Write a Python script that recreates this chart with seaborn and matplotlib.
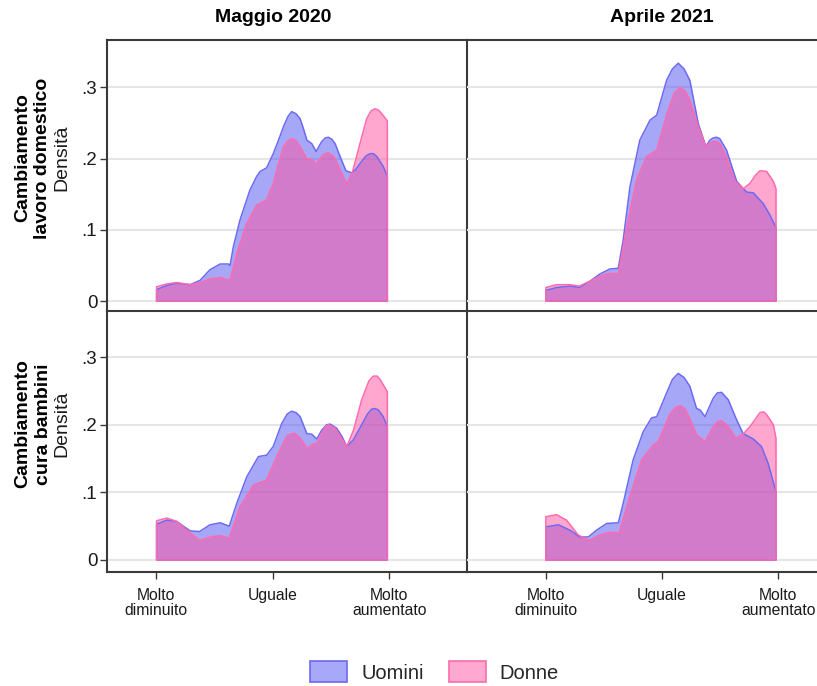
import numpy as np
import pandas as pd
import seaborn as sns
import matplotlib
matplotlib.use("Agg")
import matplotlib.pyplot as plt
from matplotlib.patches import Patch

# ---------------- data ----------------
# x scale: -4 = "Molto diminuito", 0 = "Uguale", 4 = "Molto aumentato"
tick_pos = [-4, 0, 4]
tick_labels = ["Molto\ndiminuito", "Uguale", "Molto\naumentato"]
col_titles = ["Maggio 2020", "Aprile 2021"]
row_titles = ["Cambiamento\nlavoro domestico", "Cambiamento\ncura bambini"]
groups = ["Uomini", "Donne"]

# Lavoro domestico, Maggio 2020
x_lav20_u = [-3.98, -3.63, -3.29, -2.83, -2.49, -2.15, -1.80, -1.52, -1.46, -1.35, -1.12, -0.78, -0.55, -0.43, -0.21, 0.02, 0.20, 0.37, 0.52, 0.65, 0.80, 0.94, 1.07, 1.17, 1.34, 1.49, 1.68, 1.80, 1.91, 2.03, 2.14, 2.31, 2.51, 2.71, 2.85, 2.99, 3.20, 3.34, 3.45, 3.57, 3.79, 3.93]
y_lav20_u = [0.016, 0.022, 0.025, 0.023, 0.029, 0.044, 0.052, 0.052, 0.050, 0.076, 0.114, 0.156, 0.175, 0.182, 0.187, 0.207, 0.226, 0.245, 0.259, 0.266, 0.263, 0.256, 0.240, 0.226, 0.221, 0.210, 0.224, 0.229, 0.230, 0.227, 0.221, 0.203, 0.183, 0.180, 0.185, 0.193, 0.204, 0.207, 0.207, 0.203, 0.189, 0.175]
x_lav20_d = [-3.98, -3.63, -3.29, -2.83, -2.49, -2.15, -1.80, -1.46, -1.23, -0.89, -0.55, -0.21, 0.02, 0.20, 0.37, 0.52, 0.65, 0.80, 0.94, 1.07, 1.17, 1.34, 1.49, 1.68, 1.80, 1.91, 2.03, 2.14, 2.31, 2.54, 2.74, 2.99, 3.22, 3.37, 3.51, 3.63, 3.74, 3.93]
y_lav20_d = [0.020, 0.024, 0.026, 0.023, 0.026, 0.031, 0.033, 0.029, 0.067, 0.109, 0.135, 0.142, 0.165, 0.193, 0.217, 0.225, 0.228, 0.225, 0.217, 0.207, 0.200, 0.199, 0.192, 0.203, 0.207, 0.208, 0.205, 0.200, 0.184, 0.164, 0.182, 0.221, 0.256, 0.267, 0.270, 0.268, 0.263, 0.253]

# Lavoro domestico, Aprile 2021
x_lav21_u = [-3.99, -3.62, -3.16, -2.84, -2.47, -2.13, -1.79, -1.50, -1.33, -1.10, -0.76, -0.41, -0.18, 0.16, 0.36, 0.56, 0.76, 0.96, 1.25, 1.51, 1.65, 1.76, 1.88, 1.99, 2.22, 2.57, 2.91, 3.14, 3.48, 3.71, 3.92]
y_lav21_u = [0.015, 0.019, 0.021, 0.019, 0.028, 0.038, 0.045, 0.046, 0.086, 0.160, 0.226, 0.254, 0.261, 0.310, 0.326, 0.334, 0.326, 0.310, 0.249, 0.217, 0.226, 0.229, 0.230, 0.228, 0.212, 0.168, 0.153, 0.152, 0.137, 0.121, 0.103]
x_lav21_d = [-3.99, -3.62, -3.16, -2.84, -2.47, -2.13, -1.79, -1.50, -1.21, -0.87, -0.53, -0.18, 0.16, 0.42, 0.62, 0.80, 0.96, 1.25, 1.51, 1.65, 1.76, 1.88, 1.99, 2.22, 2.51, 2.80, 3.02, 3.20, 3.37, 3.60, 3.83, 3.92]
y_lav21_d = [0.019, 0.023, 0.023, 0.021, 0.028, 0.035, 0.039, 0.038, 0.104, 0.170, 0.203, 0.212, 0.261, 0.292, 0.300, 0.295, 0.282, 0.245, 0.217, 0.222, 0.224, 0.224, 0.221, 0.203, 0.168, 0.158, 0.165, 0.176, 0.183, 0.182, 0.168, 0.158]

# Cura bambini, Maggio 2020
x_cur20_u = [-3.98, -3.63, -3.29, -2.83, -2.51, -2.15, -1.80, -1.49, -1.23, -0.89, -0.49, -0.21, 0.02, 0.31, 0.50, 0.65, 0.80, 0.94, 1.17, 1.34, 1.51, 1.68, 1.85, 1.97, 2.19, 2.37, 2.54, 2.77, 3.05, 3.25, 3.39, 3.50, 3.62, 3.79, 3.93]
y_cur20_u = [0.053, 0.059, 0.057, 0.043, 0.042, 0.052, 0.055, 0.050, 0.084, 0.123, 0.153, 0.155, 0.168, 0.202, 0.216, 0.220, 0.218, 0.212, 0.187, 0.186, 0.179, 0.192, 0.200, 0.201, 0.195, 0.183, 0.168, 0.178, 0.200, 0.216, 0.223, 0.224, 0.222, 0.212, 0.197]
x_cur20_d = [-3.98, -3.63, -3.29, -2.83, -2.49, -2.15, -1.80, -1.49, -1.12, -0.66, -0.21, 0.14, 0.48, 0.65, 0.77, 0.99, 1.17, 1.39, 1.51, 1.68, 1.80, 1.91, 2.14, 2.31, 2.54, 2.77, 3.05, 3.30, 3.45, 3.58, 3.68, 3.93]
y_cur20_d = [0.058, 0.062, 0.057, 0.040, 0.029, 0.034, 0.036, 0.032, 0.079, 0.111, 0.118, 0.153, 0.183, 0.187, 0.187, 0.178, 0.165, 0.172, 0.172, 0.187, 0.197, 0.200, 0.195, 0.183, 0.168, 0.192, 0.237, 0.265, 0.272, 0.272, 0.267, 0.249]

# Cura bambini, Aprile 2021
x_cur21_u = [-3.99, -3.56, -3.16, -2.82, -2.53, -2.25, -1.90, -1.50, -1.33, -0.99, -0.64, -0.36, -0.18, 0.16, 0.36, 0.56, 0.76, 0.96, 1.19, 1.31, 1.48, 1.76, 1.90, 2.05, 2.28, 2.57, 2.79, 3.14, 3.42, 3.65, 3.92]
y_cur21_u = [0.049, 0.052, 0.044, 0.034, 0.034, 0.044, 0.054, 0.055, 0.084, 0.148, 0.190, 0.210, 0.212, 0.247, 0.267, 0.276, 0.270, 0.257, 0.224, 0.222, 0.212, 0.239, 0.247, 0.248, 0.237, 0.207, 0.187, 0.179, 0.168, 0.143, 0.101]
x_cur21_d = [-3.99, -3.62, -3.28, -2.88, -2.50, -2.13, -1.79, -1.47, -1.10, -0.70, -0.30, -0.13, 0.27, 0.45, 0.62, 0.78, 0.90, 1.19, 1.48, 1.76, 1.92, 2.05, 2.28, 2.54, 2.79, 3.02, 3.37, 3.50, 3.60, 3.83, 3.92]
y_cur21_d = [0.064, 0.067, 0.059, 0.037, 0.029, 0.037, 0.041, 0.040, 0.094, 0.148, 0.170, 0.175, 0.215, 0.225, 0.228, 0.224, 0.215, 0.185, 0.175, 0.197, 0.205, 0.206, 0.198, 0.180, 0.186, 0.197, 0.218, 0.219, 0.215, 0.200, 0.180]

y_ticks = [0, 0.1, 0.2, 0.3]
y_tick_labels = ["0", ".1", ".2", ".3"]

# ---------------- style ----------------
sns.set_theme(style="white")
plt.rcParams["font.family"] = ["Liberation Sans", "DejaVu Sans"]

fill_colors = {"Uomini": "#5151f1", "Donne": "#ff51a1"}
line_colors = {"Uomini": "#6a6af2", "Donne": "#ff69ad"}
spine_col = "#3a3a3a"

W, H = 817, 686
fig = plt.figure(figsize=(W / 100, H / 100), dpi=100)
fig.patch.set_facecolor("white")


def rect(x0, y0, x1, y1):
    return [x0 / W, 1 - y1 / H, (x1 - x0) / W, (y1 - y0) / H]


panels = {
    (0, 0): dict(rect=rect(107, 40, 467, 311), xlim=(-5.68, 6.66), ylim=(-0.0140, 0.3666),
                 data=[(x_lav20_u, y_lav20_u), (x_lav20_d, y_lav20_d)]),
    (0, 1): dict(rect=rect(467, 40, 817, 311), xlim=(-6.70, 5.33), ylim=(-0.0140, 0.3666),
                 data=[(x_lav21_u, y_lav21_u), (x_lav21_d, y_lav21_d)]),
    (1, 0): dict(rect=rect(107, 311, 467, 572), xlim=(-5.68, 6.66), ylim=(-0.0178, 0.3683),
                 data=[(x_cur20_u, y_cur20_u), (x_cur20_d, y_cur20_d)]),
    (1, 1): dict(rect=rect(467, 311, 817, 572), xlim=(-6.70, 5.33), ylim=(-0.0178, 0.3683),
                 data=[(x_cur21_u, y_cur21_u), (x_cur21_d, y_cur21_d)]),
}

for (r, c), p in panels.items():
    ax = fig.add_axes(p["rect"])
    ax.set_facecolor("none")
    ax.set_xlim(*p["xlim"])
    ax.set_ylim(*p["ylim"])
    ax.set_yticks(y_ticks)
    ax.yaxis.grid(True, color="#e6e6e6", lw=1.5, zorder=0)
    ax.set_axisbelow(True)
    for g, (xs, ys) in zip(groups, p["data"]):
        xs = np.asarray(xs)
        ys = np.asarray(ys)
        ax.fill_between(xs, 0, ys, facecolor=fill_colors[g], alpha=0.5, lw=0, zorder=2)
        outline = pd.DataFrame({
            "x": np.concatenate([[xs[0]], xs, [xs[-1], xs[0]]]),
            "y": np.concatenate([[0], ys, [0, 0]]),
        })
        sns.lineplot(data=outline, x="x", y="y", sort=False, estimator=None,
                     color=line_colors[g], lw=1.1, ax=ax, zorder=3)
    ax.set_xlabel("")
    ax.set_ylabel("")
    for s in ax.spines.values():
        s.set_color(spine_col)
        s.set_linewidth(1.5)
        s.set_zorder(5)
    ax.spines["right"].set_visible(c == 0)
    ax.spines["left"].set_visible(c == 0)
    ax.spines["top"].set_visible(r == 0)
    ax.spines["bottom"].set_visible(True)
    if c == 0:
        ax.set_yticklabels(y_tick_labels)
        ax.tick_params(axis="y", left=True, labelleft=True, length=5, width=1.0,
                       color=spine_col, pad=2, labelsize=13.5, labelcolor="#1a1a1a")
    else:
        ax.tick_params(axis="y", left=False, labelleft=False)
    if r == 1:
        ax.set_xticks(tick_pos)
        ax.set_xticklabels(tick_labels, linespacing=1.0)
        ax.tick_params(axis="x", bottom=True, labelbottom=True, length=5, width=1.0,
                       color=spine_col, pad=6.5, labelsize=11.3, labelcolor="#1a1a1a")
    else:
        ax.set_xticks([])

# column titles
fig.text(272.7 / W, 1 - 17 / H, col_titles[0], ha="center", va="center",
         fontsize=14, fontweight="bold", color="black")
fig.text(662 / W, 1 - 17 / H, col_titles[1], ha="center", va="center",
         fontsize=14, fontweight="bold", color="black")

# row titles
for yc, title in zip([158, 424], row_titles):
    l1, l2 = title.split("\n")
    fig.text(23 / W, 1 - yc / H, l1, rotation=90, ha="center", va="center",
             fontsize=14, fontweight="bold", color="black")
    fig.text(43 / W, 1 - yc / H, l2, rotation=90, ha="center", va="center",
             fontsize=14, fontweight="bold", color="black")
    fig.text(62 / W, 1 - yc / H, "Densità", rotation=90, ha="center", va="center",
             fontsize=14, color="#1a1a1a")

# legend
handles = [Patch(facecolor=(1 - 0.5 * (1 - np.array(matplotlib.colors.to_rgb(fill_colors[g])))),
                 edgecolor=line_colors[g], lw=1.2) for g in groups]
fig.legend(handles, groups, loc="center", bbox_to_anchor=(434.5 / W, 1 - 672 / H),
           ncol=2, frameon=False, fontsize=14.5, handlelength=1.83, handleheight=1.24,
           handletextpad=0.7, columnspacing=1.25, borderpad=0, borderaxespad=0)

fig.savefig("out.png", dpi=100, facecolor="white")
